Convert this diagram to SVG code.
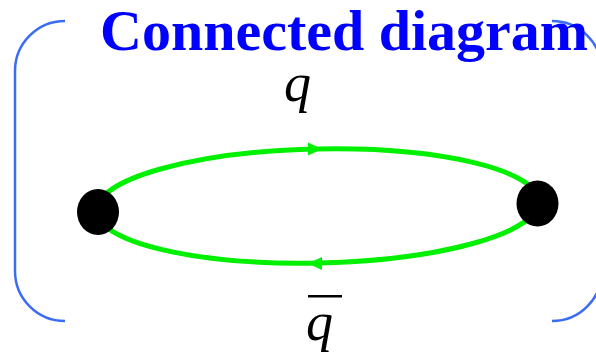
<svg xmlns="http://www.w3.org/2000/svg" width="596" height="355" viewBox="0 0 596 355">
<style>
.br{fill:none;stroke:#3b6cf5;stroke-width:2.5}
.ln{fill:none;stroke:#00f000;stroke-width:5}
.ar{fill:#00f000}
.nd{fill:#000}
.lab{font-family:"Liberation Serif",serif;font-style:italic;font-size:54px;fill:#000}
.ttl{font-family:"Liberation Serif",serif;font-weight:bold;font-size:58px;fill:#0000ff}
</style>
<rect width="596" height="355" fill="#fff"/>
<g id="brackets">
<path class="br" d="M65,21 A50,50 0 0 0 15,71 L15,271 A50,50 0 0 0 65,321"/>
<path class="br" d="M552,21 A50,50 0 0 1 602,71 L602,271 A50,50 0 0 1 552,321"/>
</g>
<g id="connectors">
<g transform="rotate(-1.2 317.5 206)">
<path class="ln" d="M96.5,206 A221,57 0 0 1 538.5,206"/>
<path class="ln" d="M538.5,206 A221,57 0 0 1 96.5,206"/>
</g>
<polygon class="ar" points="322,149 308,142.5 308,155.5"/>
<polygon class="ar" points="308,263.5 322,257 322,270"/>
</g>
<g id="title"><text class="ttl" x="100" y="50">Connected diagram</text></g>
<g id="label-q"><text class="lab" x="284" y="101">q</text></g>
<g id="label-qbar"><text class="lab" x="306" y="340">q</text><rect x="308" y="295" width="34" height="2.5" fill="#000"/></g>
<g id="node-left"><ellipse class="nd" cx="98" cy="212" rx="21" ry="23"/></g>
<g id="node-right"><ellipse class="nd" cx="537.5" cy="203.5" rx="21" ry="23"/></g>
</svg>
